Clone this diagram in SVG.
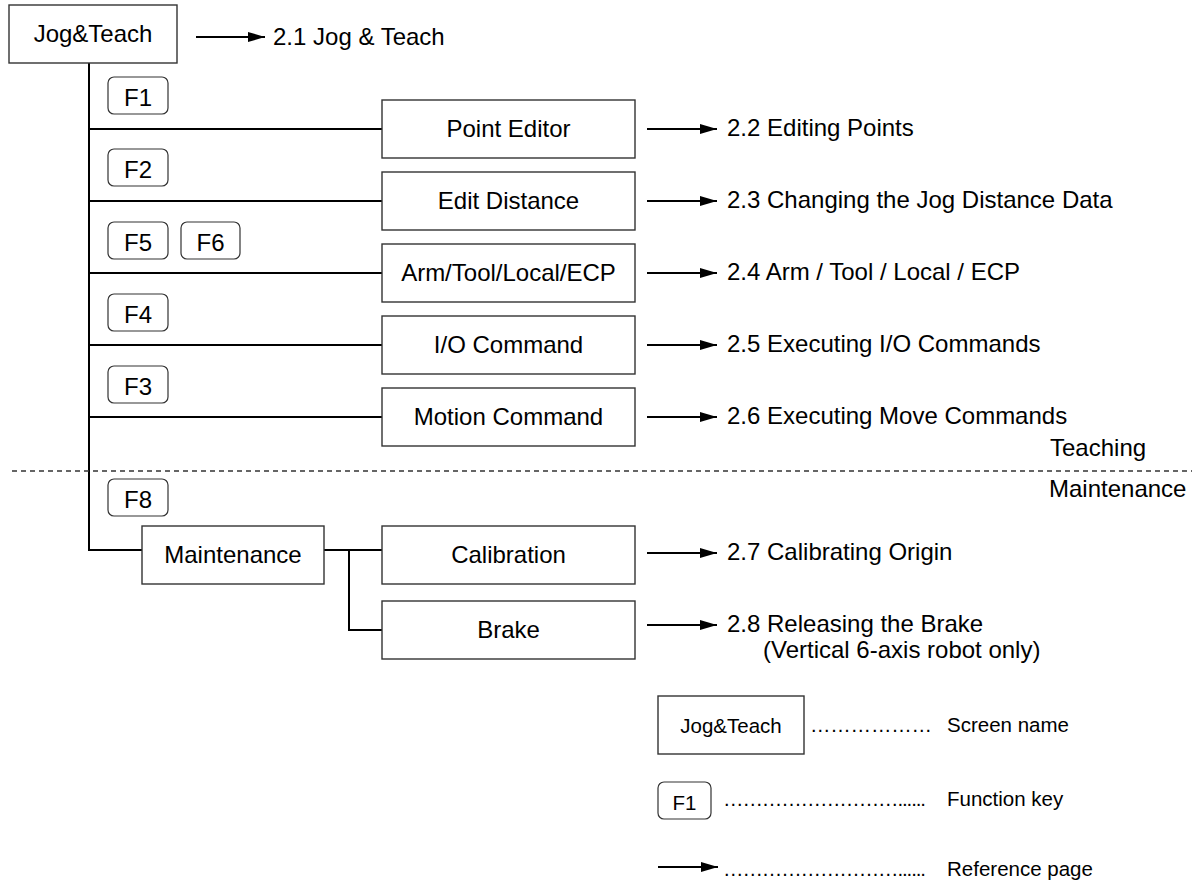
<svg xmlns="http://www.w3.org/2000/svg" width="1203" height="883" viewBox="0 0 1203 883">
<defs>
<marker id="ah" markerUnits="userSpaceOnUse" markerWidth="19" markerHeight="11" refX="17" refY="5" orient="auto">
<path d="M0,0 L17,5 L0,10 z" fill="#000"/>
</marker>
<style>
.box{fill:#fff;stroke:#333;stroke-width:1.4}
.key{fill:#fff;stroke:#333;stroke-width:1.2}
.t{font-family:"Liberation Sans",Arial,sans-serif;font-size:24px;fill:#000}
.s{font-family:"Liberation Sans",Arial,sans-serif;font-size:20.5px;fill:#000}
.c{text-anchor:middle}
.ln{stroke:#000;stroke-width:2;fill:none}
.ar{stroke:#000;stroke-width:2.2;fill:none;marker-end:url(#ah)}
</style>
</defs>
<rect width="1203" height="883" fill="#fff"/>

<g id="connectors">
<path class="ln" d="M89,63 V550 H142"/>
<path class="ln" d="M89,129 H382 M89,201 H382 M89,273 H382 M89,345 H382 M89,417 H382"/>
<path class="ln" d="M324,550 H382 M349,550 V630 H382"/>
<line x1="12" y1="471" x2="1192" y2="471" stroke="#333" stroke-width="1.3" stroke-dasharray="5,4"/>
<path class="ar" d="M196,37 H265"/>
<path class="ar" d="M647,129 H717"/>
<path class="ar" d="M647,201 H717"/>
<path class="ar" d="M647,273 H717"/>
<path class="ar" d="M647,345 H717"/>
<path class="ar" d="M647,417 H717"/>
<path class="ar" d="M647,553 H717"/>
<path class="ar" d="M647,625 H717"/>
</g>

<g id="jogteach"><rect class="box" x="9" y="5" width="168" height="58"/><text class="t c" x="93" y="42">Jog&amp;Teach</text></g>
<text class="t" x="273" y="45">2.1 Jog &amp; Teach</text>

<g id="f1"><rect class="key" x="108" y="77" width="60" height="37" rx="6"/><text class="t c" x="138" y="106">F1</text></g>
<g id="f2"><rect class="key" x="108" y="149" width="60" height="37" rx="6"/><text class="t c" x="138" y="178">F2</text></g>
<g id="f5"><rect class="key" x="108" y="222" width="60" height="37" rx="6"/><text class="t c" x="138" y="251">F5</text></g>
<g id="f6"><rect class="key" x="181" y="222" width="59" height="37" rx="6"/><text class="t c" x="210.5" y="251">F6</text></g>
<g id="f4"><rect class="key" x="108" y="294" width="60" height="37" rx="6"/><text class="t c" x="138" y="323">F4</text></g>
<g id="f3"><rect class="key" x="108" y="366" width="60" height="37" rx="6"/><text class="t c" x="138" y="395">F3</text></g>
<g id="f8"><rect class="key" x="108" y="479" width="60" height="37" rx="6"/><text class="t c" x="138" y="508">F8</text></g>

<g id="pointeditor"><rect class="box" x="382" y="100" width="253" height="58"/><text class="t c" x="508.5" y="137">Point Editor</text></g>
<g id="editdistance"><rect class="box" x="382" y="172" width="253" height="58"/><text class="t c" x="508.5" y="209">Edit Distance</text></g>
<g id="armtool"><rect class="box" x="382" y="244" width="253" height="58"/><text class="t c" x="508.5" y="281">Arm/Tool/Local/ECP</text></g>
<g id="iocommand"><rect class="box" x="382" y="316" width="253" height="58"/><text class="t c" x="508.5" y="353">I/O Command</text></g>
<g id="motioncommand"><rect class="box" x="382" y="388" width="253" height="58"/><text class="t c" x="508.5" y="425">Motion Command</text></g>
<g id="maintenance"><rect class="box" x="142" y="526" width="182" height="58"/><text class="t c" x="233" y="563">Maintenance</text></g>
<g id="calibration"><rect class="box" x="382" y="526" width="253" height="58"/><text class="t c" x="508.5" y="563">Calibration</text></g>
<g id="brake"><rect class="box" x="382" y="601" width="253" height="58"/><text class="t c" x="508.5" y="638">Brake</text></g>

<g id="refs">
<text class="t" x="727" y="136">2.2 Editing Points</text>
<text class="t" x="727" y="208">2.3 Changing the Jog Distance Data</text>
<text class="t" x="727" y="280">2.4 Arm / Tool / Local / ECP</text>
<text class="t" x="727" y="352">2.5 Executing I/O Commands</text>
<text class="t" x="727" y="424">2.6 Executing Move Commands</text>
<text class="t" x="727" y="560">2.7 Calibrating Origin</text>
<text class="t" x="727" y="632">2.8 Releasing the Brake</text>
<text class="t" x="763" y="658">(Vertical 6-axis robot only)</text>
<text class="t" x="1050" y="456">Teaching</text>
<text class="t" x="1049" y="497">Maintenance</text>
</g>

<g id="legend">
<g id="legend-screen"><rect class="box" x="658" y="696" width="146" height="58"/><text class="s c" x="731" y="733">Jog&amp;Teach</text></g>
<text class="s" x="810" y="732" textLength="122" lengthAdjust="spacing">………………</text>
<text class="s" x="947" y="732">Screen name</text>
<g id="legend-key"><rect class="key" x="658" y="782" width="53" height="37" rx="6"/><text class="s c" x="684.5" y="810">F1</text></g>
<text class="s" x="723" y="806" textLength="203" lengthAdjust="spacing">………………………......</text>
<text class="s" x="947" y="806">Function key</text>
<path class="ar" d="M658,867 H718"/>
<text class="s" x="723" y="876" textLength="203" lengthAdjust="spacing">………………………......</text>
<text class="s" x="947" y="876">Reference page</text>
</g>
</svg>
